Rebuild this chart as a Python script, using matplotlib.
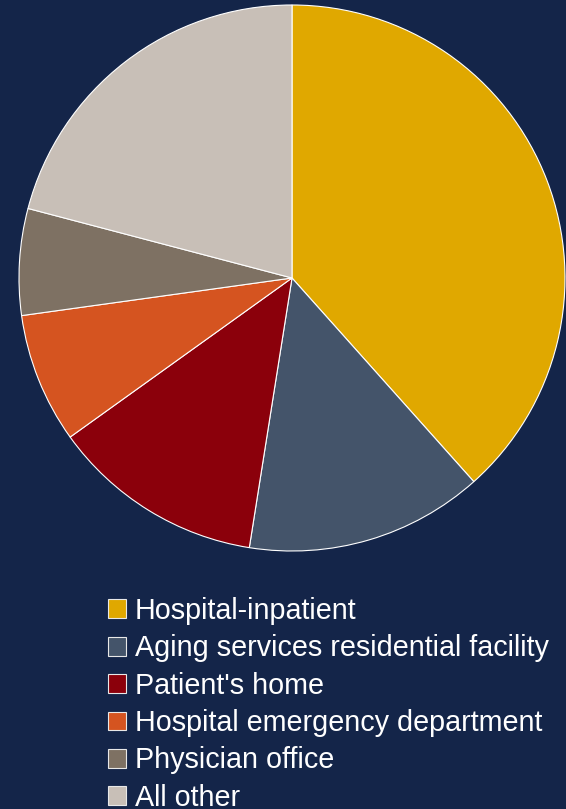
#!/usr/bin/env python3

import matplotlib
matplotlib.use('Agg')
from matplotlib import pyplot as plt
from matplotlib.patches import Patch

labels = ["Hospital-inpatient", "Aging services residential facility", "Patient's home",
          "Hospital emergency department", "Physician office", "All other"]
shares = [38.4, 14.1, 12.6, 7.7, 6.3, 20.9]
colors = ['#E0A800', '#44546A', '#8B000B', '#D55420', '#7E7163', '#C8BFB7']

bg = '#142549'

plt.rcParams['font.family'] = ['Liberation Sans', 'DejaVu Sans']

W, H = 566, 809
fig = plt.figure(figsize=(W/100, H/100), dpi=100, facecolor=bg)

# pie: centre (292, 278) px, radius 273 px
cx, cy, r = 292, 278, 273
ax = fig.add_axes([(cx-r)/W, (H-cy-r)/H, 2*r/W, 2*r/H])
ax.set_facecolor(bg)
ax.pie(shares, colors=colors, startangle=90, counterclock=False, radius=1,
       wedgeprops=dict(edgecolor='white', linewidth=0.8))
ax.set_xlim(-1, 1)
ax.set_ylim(-1, 1)
ax.set_aspect('auto')
ax.axis('off')

handles = [Patch(facecolor=c, edgecolor='#E8E8E8', linewidth=0.8) for c in colors]
fig.legend(handles, labels, loc='upper left', bbox_to_anchor=(108/W, 1-597/H),
           frameon=False, fontsize=20.7, labelcolor='white', borderpad=0,
           handlelength=0.63, handleheight=0.63, handletextpad=0.3,
           labelspacing=0.325, borderaxespad=0)

fig.savefig('out.png', dpi=100, facecolor=bg)
